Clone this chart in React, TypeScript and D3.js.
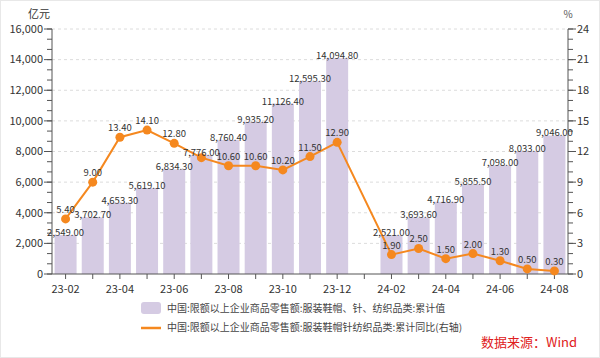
import React from "react";
import * as d3 from "d3";

const categories = ["23-02","23-03","23-04","23-05","23-06","23-07","23-08","23-09","23-10","23-11","23-12","24-01","24-02","24-03","24-04","24-05","24-06","24-07","24-08"];
const barValues: (number | null)[] = [2549.0, 3702.7, 4653.3, 5619.1, 6834.3, 7776.0, 8760.4, 9935.2, 11126.4, 12595.3, 14094.8, null, 2521.0, 3693.6, 4716.9, 5855.5, 7098.0, 8033.0, 9046.0];
const lineValues: (number | null)[] = [5.4, 9.0, 13.4, 14.1, 12.8, 11.4, 10.6, 10.6, 10.2, 11.5, 12.9, null, 1.9, 2.5, 1.5, 2.0, 1.3, 0.5, 0.3];
const hiddenLineLabels = ["23-07"];
const leftTicks = [0, 2000, 4000, 6000, 8000, 10000, 12000, 14000, 16000];
const rightTicks = [0, 3, 6, 9, 12, 15, 18, 21, 24];
const barName = "中国:限额以上企业商品零售额:服装鞋帽、针、纺织品类:累计值";
const lineName = "中国:限额以上企业商品零售额:服装鞋帽针纺织品类:累计同比(右轴)";
const sourceText = "数据来源：Wind";

const W = 600, H = 358;
const L = 52, R = 568, T = 29, B = 274;
const FONT = "'Noto Sans CJK SC', 'Microsoft YaHei', sans-serif";
const BAR = "#d5cbe3";
const LINE = "#f5881f";
const TXT = "#333";

export default function App() {
  const x = d3.scaleBand<string>().domain(categories).range([L, R]).paddingInner(0.19).paddingOuter(0.095);
  const yL = d3.scaleLinear().domain([0, 16000]).range([B, T]);
  const yR = d3.scaleLinear().domain([0, 24]).range([B, T]);
  const cx = (c: string) => (x(c) as number) + x.bandwidth() / 2;
  const fmt = d3.format(",.2f");

  const pts = categories.map((c, i) => ({ c, v: lineValues[i] })).filter(d => d.v != null) as { c: string; v: number }[];
  const linePath = d3.line<{ c: string; v: number }>().x(d => cx(d.c)).y(d => yR(d.v))(pts) || "";

  const leftMinor = d3.range(0, 16000 + 1, 2000 / 3);
  const rightMinor = d3.range(0, 25, 1);

  return (
    <svg width={W} height={H} style={{ position: "absolute", left: 0, top: 0, background: "#fff" }} fontFamily={FONT}>
      <rect x={0.5} y={0.5} width={W - 1} height={H - 1} fill="#fff" stroke="#e8e8e8" />
      {/* grid */}
      {leftTicks.filter(t => t > 0).map(t => (
        <line key={"g" + t} x1={L} x2={R} y1={yL(t)} y2={yL(t)} stroke="#dcdcdc" strokeDasharray="3,3" strokeWidth={1} />
      ))}
      {/* bars */}
      {categories.map((c, i) => barValues[i] == null ? null : (
        <rect key={"b" + c} x={x(c)} y={yL(barValues[i] as number)} width={x.bandwidth()} height={B - yL(barValues[i] as number)} fill={BAR} />
      ))}
      {/* left axis */}
      <line x1={L} x2={L} y1={T} y2={B} stroke="#555" />
      {leftMinor.map(t => (
        <line key={"lm" + t} x1={L - 5} x2={L} y1={yL(t)} y2={yL(t)} stroke="#555" />
      ))}
      {leftTicks.map(t => (
        <g key={"lt" + t}>
          <line x1={L - 8} x2={L} y1={yL(t)} y2={yL(t)} stroke="#555" />
          <text x={L - 9} y={yL(t)} dy="0.35em" textAnchor="end" fontSize={11} fill={TXT}>{d3.format(",")(t)}</text>
        </g>
      ))}
      <text x={50} y={18} textAnchor="end" fontSize={11} fill={TXT}>亿元</text>
      {/* right axis */}
      <line x1={R} x2={R} y1={T} y2={B} stroke="#555" />
      {rightMinor.map(t => (
        <line key={"rm" + t} x1={R} x2={R + 5} y1={yR(t)} y2={yR(t)} stroke="#555" />
      ))}
      {rightTicks.map(t => (
        <g key={"rt" + t}>
          <line x1={R} x2={R + 8} y1={yR(t)} y2={yR(t)} stroke="#555" />
          <text x={R + 9} y={yR(t)} dy="0.35em" textAnchor="start" fontSize={11} fill={TXT}>{t}</text>
        </g>
      ))}
      <text x={568} y={18} textAnchor="middle" fontSize={10} fill="#555">%</text>
      {/* x axis */}
      <line x1={L} x2={R} y1={B} y2={B} stroke="#555" />
      {categories.map((c, i) => (
        <g key={"xt" + c}>
          <line x1={cx(c)} x2={cx(c)} y1={B} y2={B + 5} stroke="#555" />
          {i % 2 === 0 && (
            <text x={cx(c)} y={B + 19} textAnchor="middle" fontSize={11} fill={TXT}>{c}</text>
          )}
        </g>
      ))}
      {/* line */}
      <path d={linePath} fill="none" stroke={LINE} strokeWidth={2} />
      {pts.map(d => (
        <circle key={"p" + d.c} cx={cx(d.c)} cy={yR(d.v)} r={4.5} fill={LINE} />
      ))}
      {pts.filter(d => !hiddenLineLabels.includes(d.c)).map(d => (
        <text key={"pl" + d.c} x={cx(d.c)} y={yR(d.v) - 6} textAnchor="middle" fontSize={9.5} fill={TXT}>{d.v.toFixed(2)}</text>
      ))}
      {/* bar labels */}
      {categories.map((c, i) => barValues[i] == null ? null : (
        <text key={"bl" + c} x={cx(c)} y={yL(barValues[i] as number) + 1} textAnchor="middle" fontSize={9.5} fill={TXT}>{fmt(barValues[i] as number)}</text>
      ))}
      {/* legend */}
      <rect x={141} y={302} width={20} height={12} rx={3} fill={BAR} />
      <text x={167} y={308} dy="0.35em" fontSize={10} fill="#444">{barName}</text>
      <line x1={141} x2={161} y1={328} y2={328} stroke={LINE} strokeWidth={2.5} />
      <text x={167} y={327.5} dy="0.35em" fontSize={10} fill="#444">{lineName}</text>
      <text x={577} y={342} dy="0.35em" textAnchor="end" fontSize={13} fill="#e02020">{sourceText}</text>
    </svg>
  );
}
